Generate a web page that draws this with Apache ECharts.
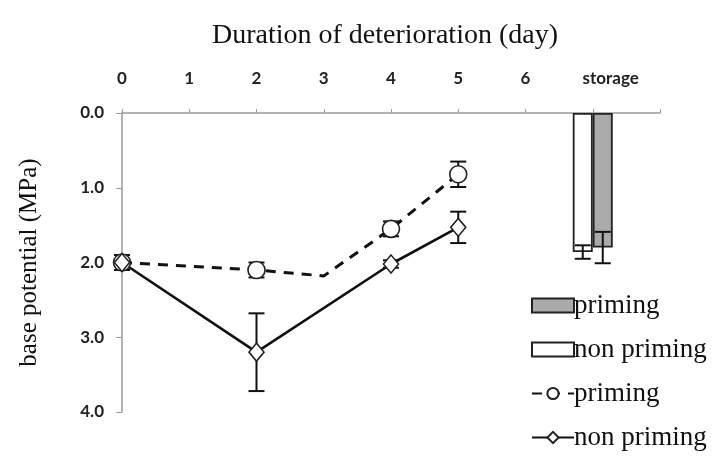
<!DOCTYPE html>
<html>
<head>
<meta charset="utf-8">
<script src="https://cdn.jsdelivr.net/npm/echarts@6/dist/echarts.min.js"></script>
<style>html,body{margin:0;padding:0;background:#fff}#c{width:713px;height:473px}</style>
</head>
<body>
<div id="c"></div>
<script>
// ---- data ----
var xTickLabels = ['0','1','2','3','4','5','6','storage',''];
var yTickLabels = ['0.0','1.0','2.0','3.0','4.0'];

var primingDays = [0, 2, 3, 4, 5];
var primingVals = [2.0, 2.1, 2.18, 1.55, 0.82];
var primingErr  = [0.1, 0.1, null, 0.1, 0.17];
var primingShow = [true, true, false, true, true];

var nonPrimingDays = [0, 2, 4, 5];
var nonPrimingVals = [2.0, 3.2, 2.02, 1.53];
var nonPrimingErr  = [0.1, 0.52, 0.05, 0.21];

var storagePos = 7;
var storageNonPriming = 1.86;
var storageNonPrimingErr = 0.09;
var storagePriming = 1.8;
var storagePrimingErr = 0.21;

// ---- build ----
var serif = '"Liberation Serif","Times New Roman",serif';
var sans = 'Lato, "Open Sans", sans-serif';

var lineP = primingDays.map(function(d,i){
  return primingShow[i] ? [d, primingVals[i]] : {value:[d, primingVals[i]], symbol:'none'};
});
var lineN = nonPrimingDays.map(function(d,i){ return [d, nonPrimingVals[i]]; });

var errData = [];
primingDays.forEach(function(d,i){ if(primingErr[i]!=null) errData.push([d, primingVals[i]-primingErr[i], primingVals[i]+primingErr[i], 0]); });
nonPrimingDays.forEach(function(d,i){ errData.push([d, nonPrimingVals[i]-nonPrimingErr[i], nonPrimingVals[i]+nonPrimingErr[i], 0]); });
errData.push([storagePos, storageNonPriming-storageNonPrimingErr, storageNonPriming+storageNonPrimingErr, -1]);
errData.push([storagePos, storagePriming-storagePrimingErr, storagePriming+storagePrimingErr, 1]);

var BW = 20;

function errRender(params, api){
  var x = api.value(0), lo = api.value(1), hi = api.value(2), side = api.value(3);
  var p1 = api.coord([x, lo]), p2 = api.coord([x, hi]);
  var cx = p1[0] + side * BW/2;
  var hw = 8;
  var st = {stroke:'#111', lineWidth:2};
  return {type:'group', children:[
    {type:'line', shape:{x1:cx,y1:p1[1],x2:cx,y2:p2[1]}, style:st},
    {type:'line', shape:{x1:cx-hw,y1:p1[1],x2:cx+hw,y2:p1[1]}, style:st},
    {type:'line', shape:{x1:cx-hw,y1:p2[1],x2:cx+hw,y2:p2[1]}, style:st}
  ]};
}

var chart = echarts.init(document.getElementById('c'), null, {renderer:'canvas'});
chart.setOption({
  animation:false,
  backgroundColor:'#fff',
  title:{
    text:'Duration of deterioration (day)',
    left:380, top:17, textAlign:'center',
    textStyle:{fontFamily:serif, fontSize:28, fontWeight:'normal', color:'#111'}
  },
  grid:{left:122, right:53, top:113, bottom:61},
  legend:{
    orient:'vertical', left:526, top:287, itemGap:17,
    itemWidth:42, itemHeight:14,
    textStyle:{fontFamily:serif, fontSize:27, color:'#111', padding:[0,0,0,-5]},
    formatter:function(n){ return n.trim(); },
    data:[
      {name:'priming', icon:'rect'},
      {name:'non priming', icon:'rect'},
      {name:'priming '},
      {name:'non priming '}
    ]
  },
  xAxis:{
    type:'value', position:'top', min:0, max:8, interval:1,
    axisLine:{lineStyle:{color:'#999', width:1.5}},
    axisTick:{inside:false, length:4, lineStyle:{color:'#999'}},
    splitLine:{show:false},
    axisLabel:{
      margin:26, fontFamily:sans, fontSize:17, fontWeight:'bold', color:'#222',
      formatter:function(v){
        var s = xTickLabels[Math.round(v)] || '';
        if(s==='storage') return '{s|storage}';
        return s;
      },
      rich:{s:{fontFamily:sans, fontSize:17, fontWeight:'bold', color:'#222', padding:[0,0,0,36]}}
    }
  },
  yAxis:{
    type:'value', inverse:true, min:0, max:4, interval:1,
    name:'base potential (MPa)', nameLocation:'middle', nameGap:80,
    nameTextStyle:{fontFamily:serif, fontSize:25, color:'#111'},
    axisLine:{show:true, lineStyle:{color:'#999', width:1.5}},
    axisTick:{show:true, length:6, lineStyle:{color:'#999'}},
    splitLine:{show:false},
    axisLabel:{
      margin:18, fontFamily:sans, fontSize:17, fontWeight:'bold', color:'#222',
      formatter:function(v){ return yTickLabels[Math.round(v)]; }
    }
  },
  series:[
    {
      name:'non priming', type:'bar', barWidth:BW, barGap:'0%',
      data:[[storagePos, storageNonPriming]],
      itemStyle:{color:'#fff', borderColor:'#222', borderWidth:1.8}
    },
    {
      name:'priming', type:'bar', barWidth:BW, barGap:'0%',
      data:[[storagePos, storagePriming]],
      itemStyle:{color:'#aaa', borderColor:'#222', borderWidth:1.8}
    },
    {
      name:'priming ', type:'line', data:lineP,
      symbol:'circle', symbolSize:17,
      lineStyle:{color:'#111', width:3, type:[10,8]},
      itemStyle:{color:'#fff', borderColor:'#222', borderWidth:1.6},
      z:4
    },
    {
      name:'non priming ', type:'line', data:lineN,
      symbol:'diamond', symbolSize:[15,18],
      lineStyle:{color:'#111', width:2.6},
      itemStyle:{color:'#fff', borderColor:'#222', borderWidth:1.6},
      z:4
    },
    {
      type:'custom', renderItem:errRender, data:errData, z:3,
      encode:{x:0, y:[1,2]}, silent:true
    }
  ]
});
</script>
</body>
</html>
